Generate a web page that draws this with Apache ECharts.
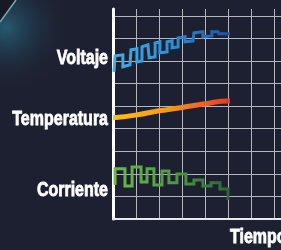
<!DOCTYPE html>
<html>
<head>
<meta charset="utf-8">
<script src="https://cdn.jsdelivr.net/npm/echarts@6/dist/echarts.min.js"></script>
<style>
  html, body { margin: 0; padding: 0; background: #1d2031; }
  #chart { width: 281px; height: 250px; }
</style>
</head>
<body>
<div id="chart"></div>
<script>
var chart = echarts.init(document.getElementById('chart'));

// eje x = tiempo (celdas), eje y = niveles (celdas)
var xTicks = [0, 1, 2, 3, 4, 5, 6, 7, 8];
var seriesNames = ['Voltaje', 'Temperatura', 'Corriente'];

// Voltaje: onda cuadrada que sube
var voltajeX = [0.04, 0.09, 0.43, 0.43, 0.74, 0.78, 1.04, 1.04, 1.26, 1.26, 1.52, 1.57, 1.83, 1.83, 2.04, 2.04, 2.35, 2.35, 2.57, 2.57, 2.83, 2.83, 3.13, 3.13, 3.48, 3.52, 3.91, 3.91, 4.30, 4.30, 4.57, 4.61, 5.09];
var voltajeY = [6.52, 7.23, 7.27, 6.74, 6.83, 7.49, 7.54, 6.96, 7.00, 7.62, 7.71, 7.14, 7.18, 7.80, 7.85, 7.36, 7.40, 7.85, 7.89, 7.58, 7.62, 8.02, 8.07, 7.85, 7.89, 8.24, 8.29, 8.07, 8.11, 8.29, 8.29, 8.20, 8.20];

// Temperatura: curva suave
var tempX = [0, 1.04, 2, 3, 4, 5, 5.09];
var tempY = [4.48, 4.61, 4.79, 4.94, 5.10, 5.23, 5.23];

// Corriente: onda cuadrada que baja
var corrienteX = [0.09, 0.09, 0.52, 0.52, 0.83, 0.83, 1.22, 1.22, 1.48, 1.48, 1.78, 1.78, 2.13, 2.13, 2.43, 2.43, 2.78, 2.78, 3.17, 3.17, 3.52, 3.52, 3.91, 3.91, 4.26, 4.26, 4.65, 4.65, 5.0, 5.0];
var corrienteY = [1.51, 2.22, 2.22, 1.46, 1.46, 2.30, 2.30, 1.64, 1.64, 2.22, 2.22, 1.51, 1.51, 2.13, 2.13, 1.60, 1.60, 1.99, 1.99, 1.55, 1.55, 1.73, 1.73, 1.46, 1.46, 1.60, 1.60, 1.33, 1.33, 0.84];

function pairs(xs, ys) {
    var out = [];
    for (var i = 0; i < xs.length; i++) out.push([xs[i], ys[i]]);
    return out;
}
function grad(c0, c1, c2) {
    return new echarts.graphic.LinearGradient(0, 0, 1, 0, [
        {offset: 0, color: c0}, {offset: 0.5, color: c1}, {offset: 1, color: c2}
    ]);
}

var labelFont = '"Liberation Sans", Arial, sans-serif';
// texto condensado: fuente bold estrechada con scaleX
function label(text, x, y, align) {
    return {
        type: 'text', x: x, y: y, scaleX: 0.8,
        style: {
            text: text, fill: '#ffffff', font: 'bold 20px ' + labelFont,
            align: align, verticalAlign: 'middle',
            stroke: '#ffffff', lineWidth: 0.8
        }
    };
}

chart.setOption({
    backgroundColor: '#1d2031',
    animation: false,
    grid: { left: 113, width: 184, top: 9, bottom: 31, outerBoundsMode: 'none' },
    xAxis: {
        type: 'value', min: 0, max: xTicks[xTicks.length - 1], interval: 1,
        axisLine: { show: true, onZero: false, lineStyle: { color: '#e8e8ec', width: 2 } },
        axisTick: { show: false },
        axisLabel: { show: false },
        splitLine: { show: true, showMinLine: false, lineStyle: { color: '#b4b6be', width: 1 } }
    },
    yAxis: {
        type: 'value', min: 0, max: 9.3, interval: 1,
        axisLine: { show: true, onZero: false, lineStyle: { color: '#ffffff', width: 3 } },
        axisTick: { show: false },
        axisLabel: { show: false },
        splitLine: { show: true, showMinLine: false, showMaxLine: false, lineStyle: { color: '#b4b6be', width: 1 } }
    },
    graphic: [
        {
            type: 'rect', left: 0, top: 0, z: -10,
            shape: { width: 120, height: 110 },
            style: {
                fill: new echarts.graphic.RadialGradient(0.05, 0.25, 0.6, [
                    {offset: 0, color: 'rgba(40,110,130,0.75)'},
                    {offset: 1, color: 'rgba(29,32,49,0)'}
                ])
            }
        },
        { type: 'polygon', z: -9, shape: { points: [[0, 0], [16, 0], [0, 22]] }, style: { fill: '#171a24' } },
        { type: 'line', z: -8, shape: { x1: 0, y1: 22, x2: 16, y2: 0 }, style: { stroke: '#7fa6b0', lineWidth: 1.5 } },
        label(seriesNames[0], 108, 58, 'right'),
        label(seriesNames[1], 108, 119, 'right'),
        label(seriesNames[2], 108, 190, 'right'),
        label('Tiempo', 230, 237, 'left')
    ],
    series: [
        {
            name: seriesNames[0], type: 'line', showSymbol: false,
            data: pairs(voltajeX, voltajeY),
            lineStyle: { width: 3, color: grad('#43b0ea', '#2b8fd6', '#1b4ea6'), join: 'miter' }
        },
        {
            name: seriesNames[1], type: 'line', showSymbol: false, smooth: true,
            data: pairs(tempX, tempY),
            lineStyle: { width: 5, color: grad('#ffc20e', '#f7941d', '#e5332a'), cap: 'butt' }
        },
        {
            name: seriesNames[2], type: 'line', showSymbol: false,
            data: pairs(corrienteX, corrienteY),
            lineStyle: { width: 3, color: grad('#6cb94a', '#4f9a43', '#2c6534'), join: 'miter' }
        }
    ]
});
</script>
</body>
</html>
